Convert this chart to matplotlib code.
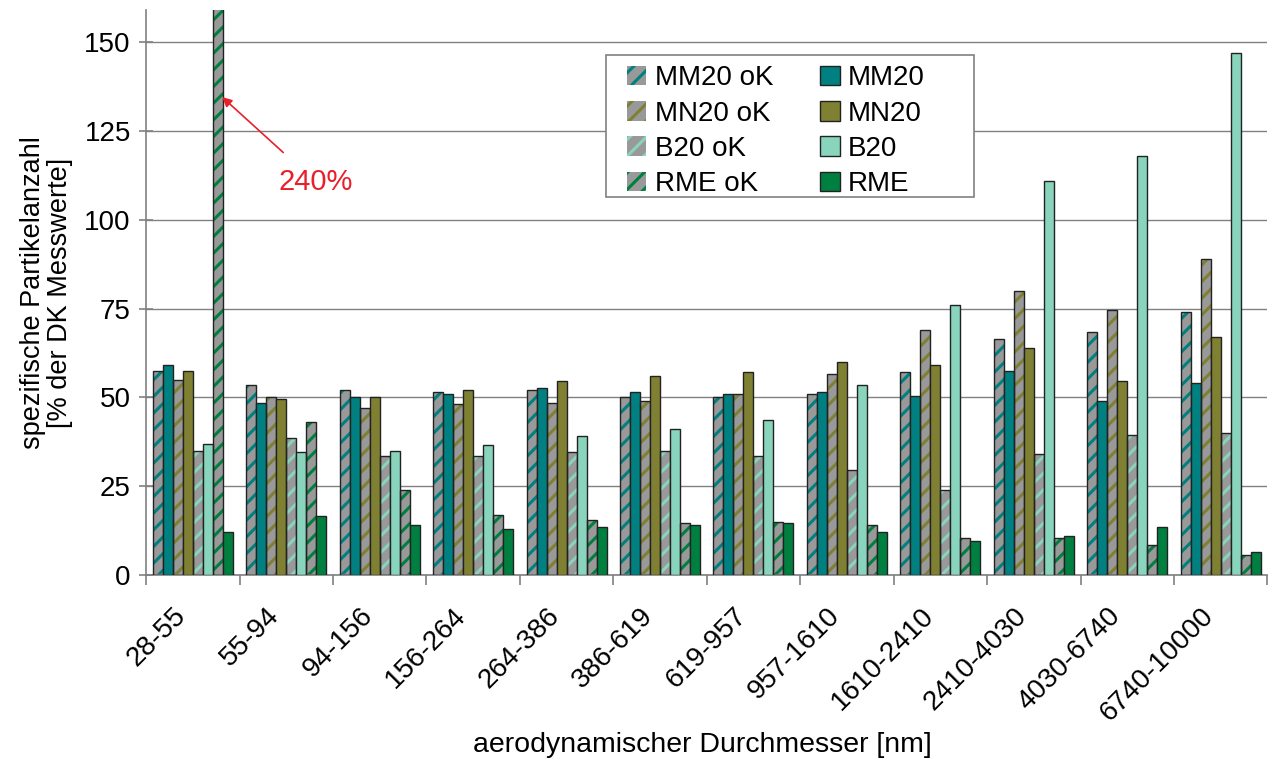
import numpy as np
import matplotlib
matplotlib.use("Agg")
import matplotlib.pyplot as plt
import matplotlib.transforms as mtransforms
from matplotlib.patches import Rectangle

plt.rcParams['font.family'] = ['Liberation Sans', 'DejaVu Sans']
plt.rcParams['hatch.linewidth'] = 2.2

# size classes (aerodynamic diameter, nm)
classes = ["28-55", "55-94", "94-156", "156-264", "264-386", "386-619",
           "619-957", "957-1610", "1610-2410", "2410-4030", "4030-6740", "6740-10000"]

mm20_ok = [57.5, 53.5, 52, 51.5, 52, 50, 50, 51, 57, 66.5, 68.5, 74]
mm20    = [59, 48.5, 50, 51, 52.5, 51.5, 51, 51.5, 50.5, 57.5, 49, 54]
mn20_ok = [55, 50, 47, 48, 48.5, 49, 51, 56.5, 69, 80, 74.5, 89]
mn20    = [57.5, 49.5, 50, 52, 54.5, 56, 57, 60, 59, 64, 54.5, 67]
b20_ok  = [35, 38.5, 33.5, 33.5, 34.5, 35, 33.5, 29.5, 24, 34, 39.5, 40]
b20     = [37, 34.5, 35, 36.5, 39, 41, 43.5, 53.5, 76, 111, 118, 147]
rme_ok  = [240, 43, 24, 17, 15.5, 14.5, 15, 14, 10.5, 10.5, 8.5, 5.5]
rme     = [12, 16.5, 14, 13, 13.5, 14, 14.5, 12, 9.5, 11, 13.5, 6.5]

series = [
    ("MM20 oK", mm20_ok, "#008080", True),
    ("MM20", mm20, "#008080", False),
    ("MN20 oK", mn20_ok, "#808033", True),
    ("MN20", mn20, "#808033", False),
    ("B20 oK", b20_ok, "#88D4BC", True),
    ("B20", b20, "#88D4BC", False),
    ("RME oK", rme_ok, "#008040", True),
    ("RME", rme, "#008040", False),
]

fig = plt.figure(figsize=(12.7, 7.6), dpi=100)
ax = fig.add_axes([0.115, 0.2434, 0.883, 0.7434])

x = np.arange(len(classes))
w = 0.107
handles = {}
for i, (name, vals, col, hatched) in enumerate(series):
    pos = x + (i - 3.5) * w
    if hatched:
        b = ax.bar(pos, vals, w, color="#999999", edgecolor=col, hatch="//",
                   linewidth=0, zorder=2)
        ax.bar(pos, vals, w, fill=False, edgecolor="#222222", linewidth=1.0, zorder=3)
    else:
        b = ax.bar(pos, vals, w, color=col, edgecolor="#222222", linewidth=1.0, zorder=3)
    handles[name] = b

ax.set_xlim(-0.5, len(classes) - 0.5)
ax.set_ylim(0, 159)
ax.set_yticks([0, 25, 50, 75, 100, 125, 150])
ax.yaxis.grid(True, color="#808080", linewidth=1.0, zorder=0)
ax.set_axisbelow(True)

ax.set_xticks(np.arange(len(classes) + 1) - 0.5)
ax.set_xticklabels([])
ax.set_xticks(x, minor=True)
ax.set_xticklabels(classes, minor=True, rotation=45, ha="right",
                   rotation_mode="anchor", fontsize=20)
ax.tick_params(axis="x", which="minor", length=0, pad=20)
ax.tick_params(axis="x", which="major", length=7, color="#808080", width=1.2)
ax.tick_params(axis="y", labelsize=20, direction="inout", length=10,
               color="#808080", width=1.2, pad=6)
shift = mtransforms.ScaledTranslation(-0.2, 0, fig.dpi_scale_trans)
for lab in ax.get_xticklabels(minor=True):
    lab.set_transform(lab.get_transform() + shift)

for s in ["top", "right"]:
    ax.spines[s].set_visible(False)
ax.spines["left"].set_color("#808080")
ax.spines["bottom"].set_color("#808080")
ax.spines["left"].set_linewidth(1.2)
ax.spines["bottom"].set_linewidth(1.2)

ax.set_ylabel("spezifische Partikelanzahl\n[% der DK Messwerte]", fontsize=19.5,
              linespacing=1.05, labelpad=8)
fig.text(0.553, 0.02, "aerodynamischer Durchmesser [nm]", fontsize=20.5,
         ha="center", va="center")

ax.annotate("240%", xy=(0.315, 134.5), xytext=(1.32, 110.5), color="#E8202A",
            fontsize=21, ha="center", va="center",
            arrowprops=dict(arrowstyle="-|>", color="#E8202A", lw=1.2,
                            shrinkA=14, shrinkB=0, mutation_scale=14))

# legend box (wider than the entries, as in the original)
ax.add_patch(Rectangle((0.4103, 0.669), 0.3283, 0.251, transform=ax.transAxes,
                       facecolor="white", edgecolor="#808080", linewidth=1.2,
                       zorder=4.5))
order = ["MM20 oK", "MN20 oK", "B20 oK", "RME oK", "MM20", "MN20", "B20", "RME"]
leg = ax.legend([handles[n] for n in order], order, ncol=2, fontsize=20,
                loc="upper left", bbox_to_anchor=(0.4175, 0.924),
                frameon=False,
                handlelength=0.7, handleheight=0.7, handletextpad=0.3,
                columnspacing=1.7, labelspacing=0.33, borderpad=0.45,
                borderaxespad=0)
leg.set_zorder(5)

fig.savefig("out.png", dpi=100)
